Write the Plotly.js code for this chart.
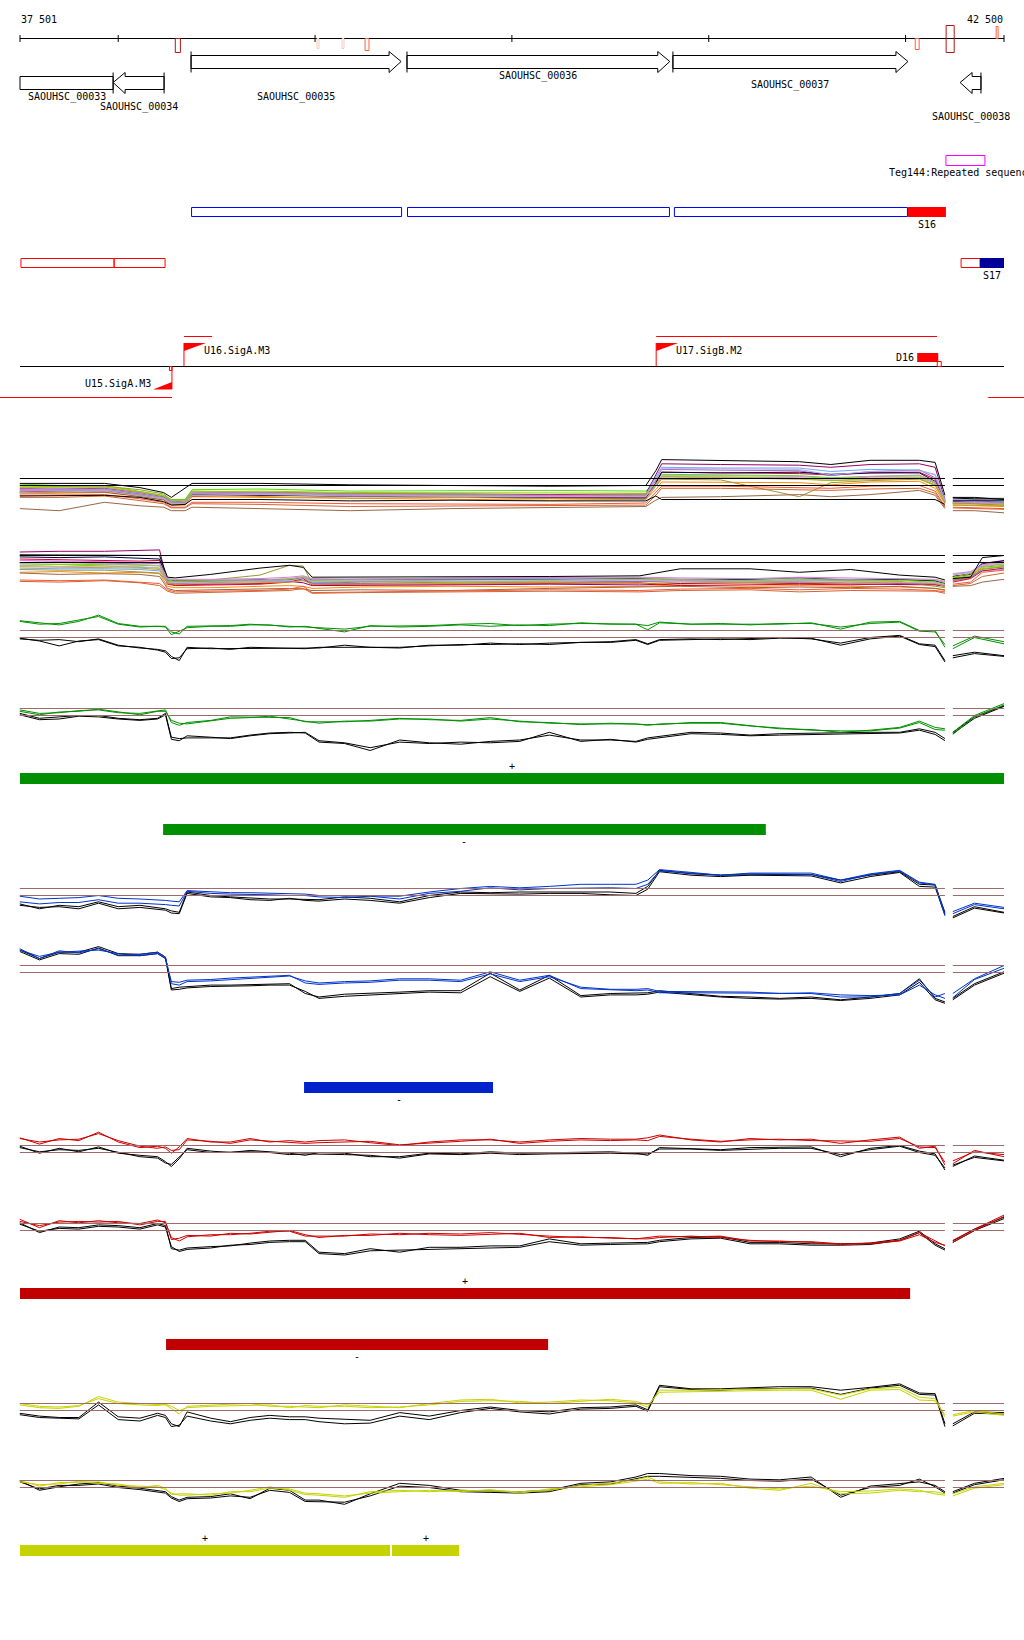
<!DOCTYPE html>
<html>
<head>
<meta charset="utf-8">
<script src="https://cdn.plot.ly/plotly-3.0.1.min.js"></script>
<style>html,body{margin:0;padding:0;background:#fff}#chart{width:1024px;height:1640px}</style>
</head>
<body>
<div id="chart"></div>
<script>
// ---------------- DATA ----------------
const VIEW_START = 37501, VIEW_END = 42500;
const rulerTicks = [37501, 38000, 39000, 40000, 41000, 42000, 42500];
const rulerLabels = ['37 501', '42 500'];

const siteStart = [38290, 39010, 39137, 39254, 42049, 42206, 42460];
const siteEnd   = [38316, 39020, 39147, 39274, 42069, 42247, 42470];
const siteKind  = ['strong', 'weak', 'weak', 'mid', 'mid', 'strong', 'mid'];

const geneNames  = ['SAOUHSC_00033', 'SAOUHSC_00034', 'SAOUHSC_00035', 'SAOUHSC_00036', 'SAOUHSC_00037', 'SAOUHSC_00038'];
const geneStart  = [37050, 37974, 38370, 39467, 40818, 42277];
const geneEnd    = [37974, 38233, 39437, 40802, 42012, 42383];
const geneStrand = ['-', '-', '+', '+', '+', '-'];

const repeatName  = ['Teg144:Repeated sequence'];
const repeatStart = [42205];
const repeatEnd   = [42403];

const upperSegStart = [38370, 39467, 40823, 42012];
const upperSegEnd   = [39442, 40803, 42012, 42205];
const upperSegName  = ['', '', '', 'S16'];
const lowerSegStart = [37506, 37979, 42282, 42378];
const lowerSegEnd   = [37979, 38238, 42378, 42500];
const lowerSegName  = ['', '', '', 'S17'];

const promoterNames  = ['U15.SigA.M3', 'U16.SigA.M3', 'U17.SigB.M2'];
const promoterPos    = [38273, 38334, 40733];
const promoterStrand = ['-', '+', '+'];
const termNames = ['D16'];
const termStart = [42059];
const termEnd   = [42166];
const transcriptStart  = [38334, 40733, 37000, 42420];
const transcriptEnd    = [38477, 42160, 38273, 43000];
const transcriptStrand = ['+', '+', '-', '-'];

// expression tracks: positions
const posA = [37500, 37700, 37930, 38110, 38230, 38270, 38340, 38375, 38720, 39180, 39690, 40190, 40680, 40731, 40761, 41060, 41460, 41620, 41820, 42070, 42150, 42200, null, 42240, 42350, 42500];
const posB = [37500, 37700, 37930, 38110, 38210, 38250, 38290, 38470, 38720, 38870, 38940, 38985, 39230, 39690, 40190, 40650, 40855, 41210, 41460, 41720, 41970, 42150, 42200, null, 42240, 42330, 42390, 42500];
const posFine = [37500, 37600, 37700, 37800, 37900, 38000, 38110, 38200, 38240, 38270, 38310, 38350, 38470, 38570, 38670, 38770, 38870, 38950, 39020, 39150, 39280, 39430, 39580, 39740, 39890, 40040, 40190, 40350, 40500, 40630, 40690, 40750, 40910, 41060, 41210, 41360, 41520, 41670, 41820, 41970, 42070, 42150, 42200, null, 42240, 42350, 42500];

// track A (many samples, + strand)
const sA1  = [9.2, 9.0, 9.0, 8.2, 7.6, 7.0, 7.0, 8.4, 8.5, 8.2, 8.3, 8.3, 8.2, 9.6, 10.6, 10.5, 10.4, 10.1, 10.3, 10.4, 9.4, 7.0, null, 6.8, 6.9, 6.7];
const sA2  = [8.6, 8.5, 8.6, 8.0, 7.4, 6.8, 6.6, 8.0, 8.0, 7.8, 7.8, 7.7, 7.8, 10.5, 12.1, 12.0, 11.9, 11.6, 12.0, 12.1, 11.6, 7.0, null, 6.7, 6.8, 6.6];
const sA3  = [8.3, 8.4, 8.5, 7.8, 7.3, 6.7, 6.6, 7.9, 8.0, 7.7, 7.8, 7.5, 7.6, 10.2, 11.6, 11.5, 11.5, 11.0, 11.3, 11.2, 10.5, 6.9, null, 6.9, 6.8, 6.8];
const sA4  = [7.8, 7.9, 8.0, 7.4, 6.9, 6.2, 6.2, 7.4, 7.3, 7.1, 7.0, 6.9, 7.0, 8.4, 9.5, 9.5, 9.4, 9.1, 9.5, 9.6, 8.6, 6.4, null, 6.2, 6.1, 6.0];
const sA5  = [8.8, 8.8, 8.9, 8.4, 7.8, 6.9, 6.9, 8.2, 8.1, 7.9, 7.7, 7.6, 7.7, 8.9, 9.9, 9.8, 7.4, 9.4, 9.7, 9.9, 9.0, 6.8, null, 6.5, 6.4, 6.4];
const sA6  = [5.7, 5.4, 6.6, 6.1, 5.9, 5.4, 5.4, 5.9, 5.7, 5.4, 5.7, 5.9, 6.0, 6.9, 7.3, 7.4, 7.7, 7.4, 7.7, 8.3, 7.6, 5.7, null, 5.4, 5.4, 5.1];
const sA7  = [8.1, 8.2, 8.2, 7.7, 7.0, 6.5, 6.5, 7.5, 7.6, 7.5, 7.5, 7.3, 7.3, 9.4, 10.9, 10.8, 10.7, 10.5, 10.8, 10.9, 9.9, 6.6, null, 6.4, 6.4, 6.2];
const sA8  = [7.6, 7.6, 7.7, 7.1, 6.6, 5.9, 5.9, 6.6, 6.6, 6.4, 6.3, 6.3, 6.5, 8.0, 8.9, 8.9, 8.7, 8.6, 8.9, 9.0, 8.2, 6.0, null, 5.8, 5.7, 5.6];
const sA9  = [8.4, 8.3, 8.4, 7.8, 7.2, 6.6, 6.5, 7.8, 7.9, 7.6, 7.6, 7.5, 7.5, 9.8, 11.3, 11.2, 11.1, 10.4, 11.0, 11.2, 10.1, 6.9, null, 6.6, 6.7, 6.5];
const sA10 = [8.0, 8.0, 8.1, 7.5, 7.0, 6.3, 6.3, 7.7, 7.6, 7.4, 7.3, 7.2, 7.2, 9.3, 10.9, 10.8, 10.9, 10.6, 10.8, 10.8, 9.6, 6.7, null, 6.9, 6.9, 6.9];
const sA11 = [7.9, 8.0, 8.1, 7.6, 7.0, 6.3, 6.3, 7.6, 7.4, 7.2, 7.3, 7.1, 7.0, 8.9, 10.0, 10.1, 9.9, 9.7, 9.8, 10.0, 9.1, 6.5, null, 6.2, 6.2, 6.1];
const sA12 = [8.5, 8.6, 8.7, 8.0, 7.5, 6.8, 6.8, 8.0, 7.9, 7.7, 7.6, 7.6, 7.5, 9.0, 10.2, 10.2, 10.1, 9.9, 10.2, 10.2, 9.3, 6.8, null, 6.5, 6.6, 6.3];
const sA13 = [8.7, 8.7, 8.8, 8.1, 7.5, 6.9, 6.8, 8.1, 8.2, 8.0, 8.0, 7.9, 7.9, 9.2, 10.3, 10.2, 10.0, 9.7, 10.0, 10.1, 9.0, 6.7, null, 6.4, 6.4, 6.3];
const sA14 = [7.3, 7.3, 7.5, 6.9, 6.4, 5.8, 5.8, 6.4, 6.3, 6.0, 6.1, 6.1, 6.2, 7.6, 8.6, 8.6, 8.4, 8.3, 8.5, 8.6, 7.9, 5.9, null, 5.9, 5.8, 5.7];
const sA15 = [8.2, 8.3, 8.4, 7.7, 7.2, 6.5, 6.5, 7.8, 7.8, 7.6, 7.5, 7.4, 7.4, 9.0, 10.4, 10.4, 10.3, 10.0, 10.3, 10.5, 9.5, 6.8, null, 6.6, 6.5, 6.5];
const sA16 = [8.0, 8.1, 8.2, 7.5, 7.1, 6.4, 6.4, 7.6, 7.7, 7.5, 7.4, 7.4, 7.4, 9.8, 11.4, 11.4, 11.3, 10.5, 11.0, 11.1, 10.6, 6.8, null, 7.3, 7.2, 7.2];
const kA1  = [9.3, 9.3, 9.3, 8.7, 8.0, 7.3, 8.6, 9.3, 9.3, 9.1, 9.0, 8.9, 9.0, 11.1, 12.7, 12.6, 12.4, 12.0, 12.6, 12.6, 12.3, 7.6, null, 7.3, 7.3, 7.0];
const kA2  = [7.5, 7.5, 7.6, 7.3, 6.7, 6.2, 6.3, 7.0, 7.0, 6.8, 6.9, 6.8, 6.8, 7.5, 7.0, 7.0, 7.0, 7.0, 7.0, 7.0, 7.0, 6.3, null, 7.2, 7.1, 7.1];

// track B (many samples, - strand)
const sB1  = [8.6, 8.7, 8.5, 8.3, 8.2, 6.3, 6.2, 6.3, 6.5, 6.6, 6.4, 6.2, 6.3, 6.2, 6.4, 6.5, 6.6, 6.7, 6.6, 6.6, 6.5, 6.3, 6.2, null, 6.8, 7.1, 8.3, 8.6];
const sB2  = [10.5, 10.6, 10.6, 10.7, 10.8, 6.0, 5.8, 5.9, 6.0, 6.3, 6.1, 5.7, 5.7, 5.8, 5.9, 5.8, 6.0, 6.1, 6.0, 5.9, 5.8, 5.8, 5.6, null, 7.0, 7.4, 8.8, 9.3];
const sB3  = [8.2, 8.1, 8.1, 8.0, 7.8, 6.4, 6.3, 6.3, 6.2, 6.3, 6.5, 6.1, 6.3, 6.5, 6.6, 6.8, 6.6, 6.4, 6.3, 6.5, 6.6, 6.4, 6.0, null, 6.6, 7.0, 7.8, 8.0];
const sB4  = [7.6, 7.7, 7.5, 7.6, 7.4, 5.6, 5.4, 5.4, 5.6, 5.7, 5.6, 5.3, 5.5, 5.6, 5.5, 5.6, 5.8, 5.6, 5.7, 5.6, 5.5, 5.3, 5.0, null, 6.4, 6.8, 8.7, 9.0];
const sB5  = [8.0, 7.9, 7.9, 7.7, 7.5, 6.1, 5.9, 6.5, 7.2, 8.6, 8.5, 6.0, 6.0, 6.2, 6.1, 6.3, 6.4, 6.2, 6.4, 6.4, 6.3, 5.6, 5.4, null, 6.4, 6.8, 8.0, 8.4];
const sB6  = [7.5, 7.3, 7.4, 7.3, 7.0, 5.3, 5.0, 5.1, 5.2, 5.3, 5.2, 5.0, 5.1, 5.0, 5.3, 5.5, 5.6, 5.4, 5.5, 5.4, 5.6, 5.3, 5.1, null, 5.6, 5.7, 6.2, 6.6];
const sB7  = [9.5, 9.4, 9.3, 9.2, 9.3, 5.9, 5.7, 5.8, 5.9, 6.2, 6.7, 5.8, 5.9, 5.9, 6.0, 6.1, 5.7, 5.8, 5.9, 5.8, 6.0, 5.9, 5.8, null, 6.2, 6.7, 7.8, 8.2];
const sB8  = [6.5, 6.4, 6.5, 6.2, 6.0, 5.1, 4.8, 4.9, 5.0, 5.2, 5.6, 4.7, 4.8, 5.0, 5.1, 5.0, 5.2, 5.3, 5.1, 5.3, 5.2, 5.0, 4.8, null, 5.9, 6.2, 7.6, 7.9];
const sB9  = [9.0, 9.1, 8.9, 8.8, 8.9, 6.2, 6.0, 6.1, 6.3, 6.5, 6.9, 6.0, 6.2, 6.3, 6.2, 6.3, 6.4, 6.3, 6.1, 6.2, 6.1, 6.0, 5.7, null, 6.5, 6.9, 8.1, 8.4];
const sB10 = [9.8, 9.7, 9.8, 9.6, 9.5, 6.5, 6.4, 6.4, 6.5, 6.6, 6.8, 6.5, 6.6, 6.6, 6.7, 6.7, 6.5, 6.6, 6.8, 6.5, 6.6, 6.4, 6.0, null, 7.0, 7.3, 8.9, 9.2];
const sB11 = [8.4, 8.3, 8.2, 8.2, 8.0, 6.0, 5.9, 6.0, 6.1, 6.2, 6.4, 5.9, 5.9, 6.0, 6.1, 6.0, 6.2, 6.1, 6.2, 6.0, 6.1, 6.0, 5.6, null, 6.7, 7.0, 8.4, 8.8];
const sB12 = [9.3, 9.2, 9.1, 9.1, 9.0, 6.7, 6.6, 6.6, 6.7, 6.9, 7.1, 6.7, 6.6, 6.8, 6.9, 6.9, 6.8, 6.7, 6.9, 6.8, 6.7, 6.6, 6.3, null, 7.4, 7.7, 8.7, 9.1];
const sB13 = [8.8, 8.8, 8.7, 8.6, 8.5, 6.5, 6.3, 6.4, 6.4, 6.6, 6.9, 6.4, 6.4, 6.4, 6.3, 6.6, 6.5, 6.4, 6.5, 6.4, 6.4, 6.2, 5.9, null, 6.9, 7.4, 8.1, 8.5];
const sB14 = [6.3, 6.2, 6.4, 6.1, 5.7, 4.9, 4.6, 4.7, 4.9, 5.0, 5.3, 4.6, 4.7, 4.8, 4.9, 4.8, 5.0, 5.1, 4.8, 5.0, 4.9, 4.9, 4.6, null, 5.7, 6.0, 7.0, 7.5];
const sB15 = [8.9, 9.0, 8.8, 8.7, 8.6, 6.6, 6.5, 6.5, 6.5, 6.7, 7.0, 6.6, 6.6, 6.6, 6.7, 6.8, 6.6, 6.7, 6.6, 6.6, 6.7, 6.5, 6.1, null, 7.2, 7.6, 8.5, 8.8];
const sB16 = [8.6, 8.4, 8.5, 8.4, 8.2, 6.2, 6.1, 6.2, 6.3, 6.4, 6.8, 6.3, 6.4, 6.3, 6.4, 6.5, 6.4, 6.3, 6.4, 6.3, 6.2, 6.1, 5.8, null, 7.4, 7.5, 8.6, 9.0];
const kB1  = [10.1, 10.1, 10.0, 10.1, 10.0, 6.9, 6.8, 7.3, 8.2, 8.6, 8.3, 6.9, 6.9, 7.0, 7.0, 7.1, 8.1, 8.1, 7.6, 8.0, 7.2, 6.9, 6.5, null, 6.7, 6.9, 9.7, 10.0];

// track C (green, + strand)
const gC1 = [11.3, 10.9, 11.0, 11.5, 12.0, 10.9, 10.5, 10.6, 10.6, 9.8, 9.5, 10.6, 10.6, 10.7, 10.9, 10.7, 10.6, 10.5, 10.4, 10.2, 10.6, 10.6, 10.7, 10.9, 11.0, 10.7, 10.9, 11.0, 11.0, 10.9, 10.7, 11.2, 10.9, 10.9, 10.9, 10.9, 11.1, 10.2, 11.2, 11.3, 10.0, 10.0, 7.6, null, 7.4, 9.0, 8.1];
const gC2 = [11.4, 11.1, 10.8, 11.3, 12.2, 11.0, 10.6, 10.6, 10.5, 9.4, 9.9, 10.4, 10.6, 10.6, 10.8, 10.8, 10.5, 10.6, 10.3, 9.8, 10.7, 10.5, 10.6, 10.8, 10.6, 10.8, 10.7, 11.1, 10.9, 10.9, 10.1, 11.1, 10.9, 11.0, 10.8, 11.0, 11.0, 10.5, 11.0, 11.2, 9.9, 9.8, 8.0, null, 7.8, 9.2, 8.4];
const kC1 = [8.8, 8.6, 8.7, 8.4, 8.8, 7.9, 7.5, 7.3, 7.1, 6.3, 5.7, 7.6, 7.4, 7.4, 7.5, 7.4, 7.5, 7.5, 7.5, 7.9, 7.6, 7.5, 7.9, 7.9, 8.2, 8.0, 8.2, 8.3, 8.4, 8.7, 8.1, 8.7, 8.8, 8.7, 8.8, 9.0, 8.8, 8.2, 9.0, 9.3, 8.1, 7.9, 5.7, null, 6.4, 6.9, 6.4];
const kC2 = [8.9, 8.5, 7.8, 8.5, 8.7, 7.8, 7.6, 7.2, 6.9, 6.0, 6.1, 7.4, 7.5, 7.3, 7.6, 7.5, 7.4, 7.4, 7.6, 7.6, 7.5, 7.6, 7.8, 8.0, 8.0, 8.1, 8.0, 8.3, 8.3, 8.6, 8.0, 8.6, 8.7, 8.8, 8.7, 8.9, 8.9, 7.9, 8.8, 9.2, 8.0, 7.7, 5.5, null, 6.1, 6.7, 6.3];
// track D (green, - strand)
const gD1 = [9.8, 9.3, 9.4, 9.7, 9.8, 9.4, 9.3, 9.7, 9.8, 8.0, 7.6, 8.0, 8.3, 8.8, 8.8, 8.8, 8.7, 8.1, 8.1, 8.1, 8.3, 8.6, 8.4, 8.3, 8.7, 8.1, 8.0, 7.7, 7.9, 7.7, 7.7, 7.7, 8.0, 8.0, 7.6, 7.1, 7.0, 6.6, 6.9, 7.3, 8.2, 7.3, 7.1, null, 6.6, 9.0, 10.7];
const gD2 = [9.6, 9.1, 9.5, 9.6, 9.9, 9.5, 9.1, 9.6, 9.6, 8.3, 7.9, 7.8, 8.2, 8.6, 8.7, 8.9, 8.5, 8.2, 7.9, 8.2, 8.2, 8.5, 8.5, 8.2, 8.5, 8.2, 7.9, 7.8, 7.8, 7.8, 7.6, 7.8, 7.9, 7.9, 7.5, 7.2, 6.9, 6.8, 6.8, 7.2, 8.0, 7.0, 6.9, null, 6.3, 8.8, 10.5];
const kD1 = [9.3, 8.6, 8.8, 9.0, 9.0, 8.6, 8.4, 8.6, 9.3, 5.9, 5.7, 5.8, 5.8, 5.8, 6.2, 6.5, 6.6, 6.5, 5.2, 5.0, 4.0, 5.5, 5.1, 4.9, 5.3, 5.5, 6.2, 5.5, 5.5, 5.3, 5.8, 6.0, 6.6, 6.5, 6.2, 6.4, 6.5, 6.5, 6.6, 6.6, 7.1, 6.6, 5.7, null, 6.6, 8.8, 10.4];
const kD2 = [9.1, 8.4, 8.5, 8.9, 8.8, 8.5, 8.3, 8.5, 9.1, 5.6, 5.4, 6.1, 5.9, 5.7, 6.1, 6.4, 6.5, 6.6, 5.4, 5.1, 4.4, 5.2, 5.0, 5.2, 5.1, 5.3, 6.6, 5.3, 5.6, 5.2, 5.6, 5.8, 6.4, 6.3, 6.1, 6.2, 6.3, 6.3, 6.4, 6.5, 6.9, 6.3, 5.4, null, 6.4, 8.6, 10.3];
// track E (blue, + strand)
const bE1 = [8.9, 8.5, 8.6, 8.7, 9.0, 8.6, 8.5, 8.4, 8.3, 8.2, 8.1, 9.7, 9.5, 9.4, 9.4, 9.3, 9.2, 9.2, 9.0, 9.0, 9.0, 8.9, 9.5, 10.0, 10.3, 10.1, 10.3, 10.6, 10.6, 10.6, 11.2, 12.7, 12.3, 11.9, 12.2, 12.2, 12.2, 11.2, 12.1, 12.6, 10.9, 10.6, 6.4, null, 6.4, 7.7, 7.1];
const bE2 = [8.1, 7.8, 8.0, 8.0, 8.4, 7.9, 7.9, 7.8, 7.7, 7.6, 7.5, 9.6, 9.3, 9.2, 9.2, 9.1, 9.0, 9.0, 8.8, 8.7, 8.9, 8.5, 9.3, 9.6, 10.1, 9.8, 10.0, 10.1, 10.1, 10.0, 10.6, 12.5, 12.2, 11.9, 12.1, 12.1, 12.0, 11.0, 12.0, 12.5, 10.8, 10.5, 6.1, null, 6.7, 7.9, 7.3];
const kE1 = [7.8, 7.1, 7.6, 7.4, 8.1, 7.4, 7.6, 7.3, 7.1, 6.8, 6.6, 9.5, 9.0, 8.8, 8.6, 8.5, 8.5, 8.5, 8.4, 8.8, 8.6, 8.1, 9.0, 9.5, 9.4, 9.5, 9.5, 9.5, 9.5, 9.3, 10.3, 12.6, 12.1, 11.9, 12.0, 12.0, 12.0, 11.2, 11.9, 12.4, 10.6, 10.5, 6.6, null, 6.0, 7.4, 6.6];
const kE2 = [7.6, 7.3, 7.4, 7.1, 7.9, 7.1, 7.3, 7.0, 6.9, 6.5, 6.4, 9.3, 8.8, 8.7, 8.4, 8.3, 8.6, 8.3, 8.2, 8.5, 8.3, 7.9, 8.7, 9.3, 9.2, 9.2, 9.3, 9.3, 9.1, 9.0, 9.9, 12.4, 11.9, 11.7, 11.9, 11.8, 11.8, 10.8, 11.7, 12.3, 10.3, 10.2, 6.2, null, 5.8, 7.2, 6.5];
// track F (blue, - strand)
const bF1 = [12.4, 11.0, 12.1, 11.8, 12.4, 11.5, 11.6, 11.9, 11.2, 7.4, 7.2, 7.7, 7.8, 8.0, 8.1, 8.4, 8.5, 7.8, 7.5, 7.7, 7.8, 8.1, 8.1, 7.9, 9.1, 7.9, 8.6, 6.7, 6.5, 6.4, 6.5, 6.1, 6.1, 6.1, 6.0, 6.0, 6.0, 5.5, 5.5, 6.0, 7.9, 5.5, 6.0, null, 6.0, 8.1, 10.0];
const bF2 = [12.2, 11.3, 11.9, 12.0, 12.2, 11.7, 11.4, 11.7, 11.0, 7.7, 7.6, 7.9, 8.0, 8.2, 8.3, 8.5, 8.6, 7.5, 7.3, 7.5, 7.6, 7.9, 7.9, 7.7, 8.8, 7.7, 8.4, 6.9, 6.6, 6.6, 6.7, 6.3, 6.3, 6.2, 6.2, 6.0, 6.1, 5.8, 5.7, 5.8, 7.2, 5.8, 5.3, null, 5.4, 8.0, 9.6];
const kF1 = [12.2, 11.0, 11.9, 11.9, 12.7, 11.7, 11.6, 11.9, 11.2, 6.7, 6.9, 7.0, 7.2, 7.2, 7.3, 7.4, 7.4, 6.0, 5.5, 5.9, 6.0, 6.2, 6.4, 6.4, 8.9, 6.5, 8.6, 5.7, 6.0, 6.0, 6.1, 6.4, 6.0, 5.6, 5.5, 5.3, 5.5, 5.1, 5.5, 6.0, 8.1, 5.3, 4.8, null, 5.3, 7.4, 9.1];
const kF2 = [12.0, 10.8, 11.7, 11.6, 12.5, 11.4, 11.4, 11.7, 11.0, 6.5, 6.6, 6.8, 7.0, 7.0, 7.1, 7.2, 7.2, 6.3, 5.3, 5.6, 5.8, 6.0, 6.2, 6.1, 8.4, 6.3, 8.2, 5.5, 5.8, 5.8, 5.9, 6.2, 5.8, 5.5, 5.3, 5.2, 5.3, 5.0, 5.3, 5.8, 7.6, 5.1, 4.6, null, 5.1, 7.2, 8.9];
// track G (red, + strand)
const rG1 = [11.1, 10.2, 11.0, 10.7, 11.9, 10.5, 9.7, 9.9, 9.6, 8.9, 9.8, 11.0, 10.5, 10.5, 11.0, 10.5, 10.7, 10.5, 10.7, 10.8, 10.4, 10.0, 10.5, 10.8, 10.8, 10.5, 10.8, 11.0, 10.9, 10.9, 11.1, 11.5, 10.8, 10.5, 11.0, 10.8, 10.9, 10.3, 10.8, 11.2, 9.6, 9.9, 7.2, null, 7.4, 9.3, 8.4];
const rG2 = [11.0, 10.5, 10.8, 10.9, 11.7, 10.7, 9.9, 9.6, 9.8, 9.3, 9.4, 10.8, 10.6, 10.3, 10.8, 10.6, 10.5, 10.3, 10.4, 10.5, 10.6, 10.1, 10.3, 10.6, 10.9, 10.3, 10.6, 10.8, 10.7, 10.8, 10.7, 11.3, 10.9, 10.6, 10.8, 10.9, 10.7, 10.6, 10.6, 11.0, 9.8, 9.7, 7.6, null, 7.8, 9.1, 8.7];
const kG1 = [9.9, 8.9, 9.6, 9.1, 9.8, 8.9, 8.6, 8.4, 7.7, 7.0, 8.1, 9.6, 9.2, 9.0, 9.3, 9.1, 8.9, 8.6, 9.0, 8.9, 8.4, 8.4, 8.9, 8.8, 9.1, 8.9, 9.0, 9.0, 9.1, 8.9, 8.6, 9.7, 9.6, 9.4, 9.7, 9.7, 9.8, 8.4, 9.6, 10.0, 9.2, 8.8, 6.5, null, 7.0, 8.5, 7.9];
const kG2 = [9.7, 9.1, 9.4, 9.3, 9.6, 9.0, 8.4, 8.2, 7.5, 7.3, 8.3, 9.4, 9.0, 9.1, 9.1, 9.0, 8.7, 8.8, 8.8, 8.7, 8.6, 8.2, 8.8, 8.7, 8.9, 8.7, 8.8, 8.9, 8.9, 8.8, 8.8, 9.5, 9.5, 9.3, 9.5, 9.6, 9.6, 8.7, 9.4, 9.9, 9.0, 8.6, 6.8, null, 7.2, 8.3, 7.8];
// track H (red, - strand)
const rH1 = [10.6, 9.4, 10.4, 10.1, 10.4, 10.1, 10.0, 10.5, 10.1, 8.0, 7.5, 8.1, 8.4, 8.4, 8.6, 8.9, 8.9, 8.2, 8.2, 8.2, 8.5, 8.4, 8.6, 8.5, 8.7, 8.4, 8.2, 8.0, 8.0, 7.8, 8.0, 8.2, 8.1, 8.2, 7.5, 7.5, 7.3, 7.0, 7.2, 7.6, 8.7, 7.5, 6.8, null, 7.6, 9.2, 11.2];
const rH2 = [10.3, 9.7, 10.2, 10.3, 10.2, 10.3, 9.8, 10.3, 10.3, 7.7, 7.9, 8.3, 8.2, 8.6, 8.5, 8.7, 9.0, 8.4, 8.0, 8.3, 8.3, 8.6, 8.4, 8.3, 8.5, 8.6, 8.0, 8.1, 7.9, 7.9, 7.8, 8.0, 8.2, 8.0, 7.6, 7.4, 7.4, 7.1, 7.1, 7.5, 8.4, 7.3, 6.9, null, 7.3, 9.0, 11.0];
const kH1 = [10.1, 8.7, 9.5, 9.4, 9.8, 9.7, 9.4, 10.0, 9.7, 6.4, 6.2, 6.5, 6.7, 6.8, 7.2, 7.5, 7.6, 7.6, 5.9, 5.7, 6.4, 5.9, 6.6, 6.6, 6.8, 6.8, 7.8, 7.1, 7.2, 7.3, 7.3, 7.6, 8.0, 8.1, 7.3, 7.3, 7.1, 7.1, 7.2, 7.8, 8.9, 7.1, 6.4, null, 7.5, 9.2, 10.9];
const kH2 = [9.9, 8.9, 9.3, 9.2, 9.6, 9.5, 9.2, 9.8, 9.5, 6.7, 6.0, 6.3, 6.5, 6.9, 7.0, 7.3, 7.4, 7.4, 5.7, 5.5, 6.1, 6.2, 6.4, 6.4, 6.6, 6.6, 7.4, 6.9, 7.0, 7.1, 7.1, 7.4, 7.8, 7.9, 7.1, 7.1, 6.9, 6.9, 7.0, 7.6, 8.7, 6.9, 6.2, null, 7.3, 9.0, 10.7];
// track I (yellow, + strand)
const yI1 = [9.8, 9.4, 9.3, 9.6, 11.0, 10.2, 10.0, 9.9, 9.8, 9.3, 8.5, 9.6, 9.8, 9.9, 10.0, 9.6, 9.6, 9.5, 9.4, 9.8, 9.6, 9.4, 10.0, 10.5, 10.6, 10.1, 10.2, 10.5, 10.4, 10.1, 9.5, 11.9, 11.9, 12.0, 12.0, 12.1, 12.1, 11.2, 12.1, 12.3, 10.9, 10.7, 8.1, null, 8.2, 8.8, 8.3];
const yI2 = [10.0, 9.6, 9.5, 9.7, 10.7, 10.0, 9.8, 9.7, 9.9, 9.6, 9.0, 9.4, 9.6, 9.7, 9.8, 9.8, 9.4, 9.7, 9.6, 9.6, 9.4, 9.5, 9.8, 10.3, 10.4, 10.3, 10.0, 10.3, 10.6, 10.3, 9.8, 11.6, 11.7, 11.8, 11.8, 11.9, 11.9, 10.6, 11.9, 12.0, 10.5, 10.4, 8.4, null, 8.4, 9.0, 8.5];
const kI1 = [8.6, 8.2, 8.0, 8.0, 10.2, 8.1, 7.9, 8.6, 8.3, 7.1, 6.7, 8.8, 7.9, 7.4, 8.0, 8.3, 8.1, 8.1, 7.9, 7.7, 7.6, 8.7, 8.2, 9.0, 9.5, 9.0, 8.8, 9.4, 9.5, 9.8, 9.1, 12.6, 12.1, 12.1, 12.3, 12.4, 12.4, 11.9, 12.3, 12.8, 11.5, 11.4, 7.1, null, 7.1, 8.8, 8.7];
const kI2 = [8.4, 8.0, 7.9, 7.8, 9.8, 7.7, 7.5, 8.3, 8.0, 6.7, 6.9, 8.2, 7.5, 7.1, 7.6, 7.9, 7.7, 7.7, 7.4, 7.1, 7.2, 8.2, 7.7, 8.7, 9.3, 8.8, 8.5, 9.2, 9.3, 9.6, 8.9, 12.4, 12.0, 11.9, 12.1, 12.2, 12.2, 11.3, 12.2, 12.6, 11.3, 11.2, 6.7, null, 6.8, 8.6, 8.5];
// track J (yellow, - strand)
const yJ1 = [10.0, 9.2, 9.7, 9.8, 9.8, 9.3, 9.2, 9.1, 8.7, 8.2, 7.9, 7.9, 8.1, 8.2, 8.6, 9.1, 8.6, 8.0, 7.9, 7.6, 8.4, 8.6, 8.4, 8.6, 8.5, 8.4, 8.6, 9.3, 9.6, 10.1, 10.5, 9.8, 9.5, 9.6, 8.9, 8.6, 9.6, 8.1, 8.2, 8.6, 8.4, 8.4, 8.1, null, 8.1, 9.1, 9.6];
const yJ2 = [9.8, 9.4, 9.5, 9.9, 9.6, 9.5, 9.0, 9.3, 8.9, 8.0, 8.1, 8.1, 7.9, 8.4, 8.4, 8.9, 8.8, 8.2, 8.1, 7.8, 8.2, 8.4, 8.6, 8.4, 8.7, 8.2, 8.8, 9.1, 9.4, 9.9, 10.2, 9.6, 9.7, 9.4, 9.1, 8.8, 9.2, 8.4, 8.5, 8.8, 8.6, 8.1, 7.9, null, 7.8, 8.9, 9.4];
const kJ1 = [10.0, 8.6, 9.1, 9.5, 9.7, 9.2, 8.9, 8.6, 8.4, 7.7, 7.2, 7.6, 7.7, 8.1, 7.4, 8.9, 8.6, 7.2, 7.2, 6.6, 8.1, 9.6, 9.3, 8.6, 8.5, 8.4, 8.6, 9.6, 9.8, 10.5, 11.0, 11.0, 10.7, 10.6, 10.2, 10.1, 10.5, 7.6, 9.2, 9.6, 9.8, 9.3, 8.4, null, 8.4, 9.6, 10.3];
const kJ2 = [9.8, 8.8, 9.3, 9.3, 9.5, 9.0, 8.7, 8.4, 8.2, 7.5, 7.0, 7.4, 7.5, 7.8, 7.6, 8.6, 8.3, 7.0, 7.0, 6.9, 7.8, 9.2, 9.0, 8.4, 8.3, 8.2, 8.4, 9.4, 9.5, 10.2, 10.6, 10.6, 10.4, 10.3, 10.0, 9.9, 10.2, 7.9, 9.0, 9.3, 10.2, 9.1, 8.2, null, 8.2, 9.4, 10.1];

const refHigh = 10, refLow = 9;

// expressed region bars
const greenBarStart = [37501, 38228], greenBarEnd = [42500, 41290], greenBarStrand = ['+', '-'];
const blueBarStart = [38944], blueBarEnd = [39904], blueBarStrand = ['-'];
const redBarStart = [37501, 38243], redBarEnd = [42023, 40184], redBarStrand = ['+', '-'];
const yellowBarStart = [37501, 39391], yellowBarEnd = [39381, 39732], yellowBarStrand = ['+', '+'];

// ---------------- STYLE / LAYOUT ----------------
const W = 1024, H = 1640;
const BP_PER_PX = (VIEW_END - VIEW_START) / 984;
const XMIN = VIEW_START - 20 * BP_PER_PX, XMAX = VIEW_END + 20 * BP_PER_PX;
const bp = px => px * BP_PER_PX;
const FONT = {family: 'DejaVu Sans Mono, monospace', size: 10, color: '#000'};
const GREEN = '#009000', BLUE = '#0033cc', RED = '#cc0000', YELLOW = '#c5d300', BROWN = '#9e6a6a';
const multiColors = ['#55dd00', '#990066', '#66aaff', '#ff8800', '#999933', '#996644', '#dd0033', '#ff5533',
                     '#9966cc', '#000044', '#cc9933', '#dd77dd', '#99cc00', '#cc6633', '#aaaaaa', '#bbaadd'];
const siteColor = {strong: '#b01818', weak: '#f4cabd', mid: '#ff6040'};
const siteBoxY = [[38.5, 52.5], [38.5, 48.5], [38.5, 48.5], [38.5, 50.5], [38.5, 49.5], [25.5, 52.5], [26.5, 38.5]];
const geneLabelY = [97, 106.5, 97, 76, 85, 117];

const shapes = [], annotations = [], traces = [];
function sLine(x0, y0, x1, y1, color, w) {
  shapes.push({type: 'line', xref: 'x', yref: 'y', x0, y0, x1, y1, line: {color, width: w || 1}});
}
function sRect(x0, y0, x1, y1, fill, lineColor) {
  shapes.push({type: 'rect', xref: 'x', yref: 'y', x0, y0, x1, y1,
    fillcolor: fill || 'rgba(0,0,0,0)', line: {color: lineColor || 'rgba(0,0,0,0)', width: lineColor ? 1 : 0}});
}
function sPath(d, fill, lineColor) {
  shapes.push({type: 'path', xref: 'x', yref: 'y', path: d,
    fillcolor: fill || 'rgba(0,0,0,0)', line: {color: lineColor || 'rgba(0,0,0,0)', width: lineColor ? 1 : 0}});
}
function label(x, y, text, anchor) {
  annotations.push({xref: 'x', yref: 'y', x, y, text, showarrow: false, xanchor: anchor || 'center',
    yanchor: 'middle', font: FONT, borderpad: 0});
}

// ruler
sLine(VIEW_START, 38.5, VIEW_END, 38.5, '#000');
rulerTicks.forEach(t => sLine(t, 35, t, 42, '#000'));
label(VIEW_START, 19, rulerLabels[0], 'left');
label(VIEW_END, 19, rulerLabels[1], 'right');
siteStart.forEach((s, i) => sRect(s, siteBoxY[i][0], siteEnd[i], siteBoxY[i][1], null, siteColor[siteKind[i]]));

// genes
geneNames.forEach((n, i) => {
  const row = geneStrand[i] === '+' ? 0 : 1;
  const ht = 51.5 + row * 21, bt = ht + 4, mid = ht + 10, bb = ht + 17, hb = ht + 21;
  const s = Math.max(geneStart[i], VIEW_START), e = Math.min(geneEnd[i], VIEW_END);
  const head = bp(12);
  let d;
  if (geneStrand[i] === '+') {
    if (geneEnd[i] <= VIEW_END) {
      const h = e - head;
      d = `M${s},${bt}L${h},${bt}L${h},${ht}L${e},${mid}L${h},${hb}L${h},${bb}L${s},${bb}Z`;
    } else d = `M${s},${bt}L${e},${bt}L${e},${bb}L${s},${bb}Z`;
    sPath(d, '#fff', '#000');
    if (geneStart[i] >= VIEW_START) sLine(s, ht, s, hb, '#000');
  } else {
    if (geneStart[i] >= VIEW_START) {
      const h = s + head;
      d = `M${e},${bt}L${h},${bt}L${h},${ht}L${s},${mid}L${h},${hb}L${h},${bb}L${e},${bb}Z`;
    } else d = `M${s},${bt}L${e},${bt}L${e},${bb}L${s},${bb}Z`;
    sPath(d, '#fff', '#000');
    if (geneEnd[i] <= VIEW_END) sLine(e, ht, e, hb, '#000');
  }
  label((s + e) / 2, geneLabelY[i], n);
});

// repeat feature
repeatName.forEach((n, i) => {
  sRect(repeatStart[i], 155.5, repeatEnd[i], 165.5, null, '#ff00ff');
  label((repeatStart[i] + repeatEnd[i]) / 2 - bp(4), 172, n);
});

// segment rows
upperSegStart.forEach((s, i) => {
  const e = upperSegEnd[i];
  if (upperSegName[i]) { sRect(s, 207, e, 217, '#ff0000'); label((s + e) / 2, 224, upperSegName[i]); }
  else sRect(s + bp(0.5), 207.5, e - bp(0.5), 216.5, null, '#0000ff');
});
lowerSegStart.forEach((s, i) => {
  const e = lowerSegEnd[i];
  if (lowerSegName[i]) { sRect(s, 258, e, 268, '#000099'); label((s + e) / 2, 275, lowerSegName[i]); }
  else sRect(s, 258.5, e, 267.5, null, '#ff0000');
});

// transcripts / promoters / terminators
transcriptStart.forEach((s, i) => {
  const y = transcriptStrand[i] === '+' ? 336.5 : 397.5;
  sLine(s, y, transcriptEnd[i], y, '#ff0000', 1);
});
sLine(VIEW_START, 366.5, VIEW_END, 366.5, '#000');
promoterPos.forEach((p, i) => {
  if (promoterStrand[i] === '+') {
    sLine(p, 343, p, 366, '#ff0000');
    sPath(`M${p},343L${p + bp(22)},343L${p},351Z`, '#ff0000');
    label(p + bp(19), 350, promoterNames[i], 'left');
  } else {
    sLine(p, 367, p, 389, '#ff0000');
    sPath(`M${p},389.5L${p - bp(19)},389.5L${p},382Z`, '#ff0000');
    sRect(p - bp(2.5), 366.5, p, 370.5, null, '#ff0000');
    label(p - bp(20), 383, promoterNames[i], 'right');
  }
});
termNames.forEach((n, i) => {
  sRect(termStart[i], 353, termEnd[i], 362, '#ff0000');
  sRect(termEnd[i] - bp(1), 361.5, termEnd[i] + bp(3), 366.5, null, '#ff0000');
  label(termStart[i] - bp(2), 357, n, 'right');
});

// expression tracks
const PX_PER_UNIT = 7;
const layout = {
  width: W, height: H, margin: {l: 0, r: 0, t: 0, b: 0, pad: 0},
  paper_bgcolor: '#fff', plot_bgcolor: 'rgba(0,0,0,0)', showlegend: false, hovermode: false,
  xaxis: {range: [XMIN, XMAX], domain: [0, 1], visible: false, fixedrange: true, anchor: 'y'},
  yaxis: {range: [H, 0], domain: [0, 1], visible: false, fixedrange: true, anchor: 'x'},
  shapes, annotations
};
function refX(pos) {
  const g = pos.indexOf(null);
  return [pos[0], pos[g - 1], null, pos[g + 1], pos[pos.length - 1]];
}
const tracks = [
  {pos: posA, lines: [sA1, sA2, sA3, sA4, sA5, sA6, sA7, sA8, sA9, sA10, sA11, sA12, sA13, sA14, sA15, sA16], colors: multiColors, black: [kA2, kA1], top: 440, bottom: 525, ref: 478.5, refColor: '#000'},
  {pos: posB, lines: [sB1, sB2, sB3, sB4, sB5, sB6, sB7, sB8, sB9, sB10, sB11, sB12, sB13, sB14, sB15, sB16], colors: multiColors, black: [kB1], top: 530, bottom: 605, ref: 555.5, refColor: '#000'},
  {pos: posFine, lines: [gC1, gC2], colors: [GREEN, GREEN], black: [kC1, kC2], top: 603, bottom: 670, ref: 630.5, refColor: BROWN},
  {pos: posFine, lines: [gD1, gD2], colors: [GREEN, GREEN], black: [kD1, kD2], top: 686, bottom: 764, ref: 708.5, refColor: BROWN},
  {pos: posFine, lines: [bE1, bE2], colors: [BLUE, BLUE], black: [kE1, kE2], top: 846, bottom: 926, ref: 888.5, refColor: BROWN},
  {pos: posFine, lines: [bF1, bF2], colors: [BLUE, BLUE], black: [kF1, kF2], top: 930, bottom: 1012, ref: 965.5, refColor: BROWN},
  {pos: posFine, lines: [rG1, rG2], colors: [RED, RED], black: [kG1, kG2], top: 1108, bottom: 1180, ref: 1145.5, refColor: BROWN},
  {pos: posFine, lines: [rH1, rH2], colors: [RED, RED], black: [kH1, kH2], top: 1198, bottom: 1264, ref: 1223.5, refColor: BROWN},
  {pos: posFine, lines: [yI1, yI2], colors: [YELLOW, YELLOW], black: [kI1, kI2], top: 1368, bottom: 1442, ref: 1403.5, refColor: BROWN},
  {pos: posFine, lines: [yJ1, yJ2], colors: [YELLOW, YELLOW], black: [kJ1, kJ2], top: 1456, bottom: 1522, ref: 1480.5, refColor: BROWN}
];
tracks.forEach((t, k) => {
  const n = k + 2, ax = 'y' + n;
  layout['yaxis' + n] = {
    domain: [1 - t.bottom / H, 1 - t.top / H],
    range: [refHigh - (t.bottom - t.ref) / PX_PER_UNIT, refHigh + (t.ref - t.top) / PX_PER_UNIT],
    visible: false, fixedrange: true, anchor: 'x'
  };
  const addLine = (y, color) => traces.push({type: 'scatter', mode: 'lines', x: t.pos, y, xaxis: 'x', yaxis: ax,
    line: {color, width: 1}, hoverinfo: 'skip', connectgaps: false});
  const isMulti = t.lines.length > 2;
  if (!isMulti) t.black.forEach(b => addLine(b, '#000'));
  t.lines.forEach((l, j) => addLine(l, t.colors[j]));
  if (isMulti) t.black.forEach(b => addLine(b, '#000'));
  const rx = refX(t.pos);
  [refHigh, refLow].forEach(v => traces.push({type: 'scatter', mode: 'lines', x: rx, y: [v, v, null, v, v],
    xaxis: 'x', yaxis: ax, line: {color: t.refColor, width: 1}, hoverinfo: 'skip', connectgaps: false}));
});

// expressed region bars
function bars(starts, ends, strands, plusTop, color) {
  starts.forEach((s, i) => {
    const e = ends[i];
    if (strands[i] === '+') {
      sRect(s, plusTop, e, plusTop + 11, color);
      label((s + e) / 2, plusTop - 7, '+');
    } else {
      const top = plusTop + 51;
      sRect(s, top, e, top + 11, color);
      label((s + e) / 2, top + 17, '-');
    }
  });
}
bars(greenBarStart, greenBarEnd, greenBarStrand, 773, '#008f00');
bars(blueBarStart, blueBarEnd, blueBarStrand, 1031, '#0022cc');
bars(redBarStart, redBarEnd, redBarStrand, 1288, '#c00000');
bars(yellowBarStart, yellowBarEnd, yellowBarStrand, 1545, '#c5d300');

Plotly.newPlot('chart', traces, layout, {staticPlot: true, displayModeBar: false});
</script>
</body>
</html>
